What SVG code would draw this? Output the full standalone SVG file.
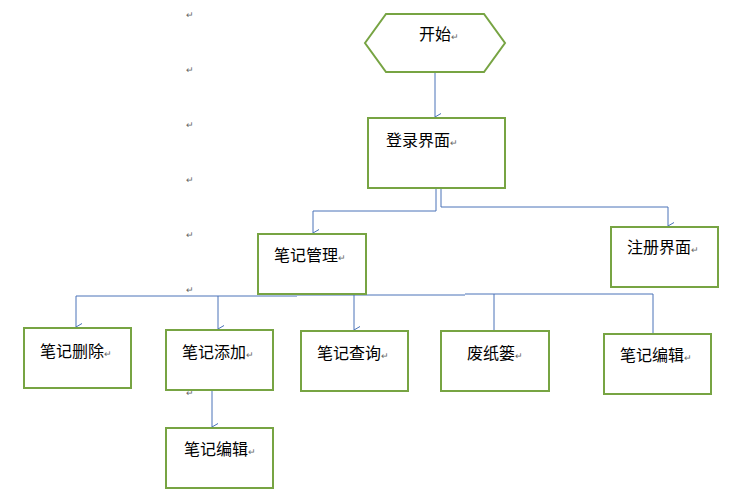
<svg xmlns="http://www.w3.org/2000/svg" width="755" height="493" viewBox="0 0 755 493">
<defs><marker id="a" markerWidth="8" markerHeight="8" refX="4" refY="7" orient="auto" markerUnits="userSpaceOnUse"><path d="M0.5,1 L4,7 L7.5,1" fill="none" stroke="#4a72b8" stroke-width="1"/></marker></defs>
<style>
.b{fill:#fff;stroke:#77a443;stroke-width:2}
.t{font-family:"Noto Sans CJK SC","Liberation Sans",sans-serif;font-size:16px;fill:#000}
.r{font-family:"Liberation Sans",sans-serif;font-size:9px;fill:#666}
.c{fill:none;stroke:#4a72b8;stroke-width:1}
</style>
<rect width="755" height="493" fill="#fff"/>
<g id="marks">
<text class="r" x="186" y="18">↵</text><text class="r" x="186" y="73">↵</text><text class="r" x="186" y="128">↵</text><text class="r" x="186" y="183">↵</text><text class="r" x="186" y="238">↵</text><text class="r" x="186" y="293">↵</text><text class="r" x="186" y="396">↵</text>
</g>
<g id="connectors">
<path class="c" d="M435,72 V117" marker-end="url(#a)"/>
<path class="c" d="M436,188 V211 H313 V233" marker-end="url(#a)"/>
<path class="c" d="M441,188 V207 H668 V226" marker-end="url(#a)"/>
<path class="c" d="M76,296 H297 M297,295 H465 M465,294 H653 V333 M494,294 V331"/>
<path class="c" d="M76,296 V327" marker-end="url(#a)"/>
<path class="c" d="M218,296 V329" marker-end="url(#a)"/>
<path class="c" d="M354,295 V330" marker-end="url(#a)"/>
<path class="c" d="M212,390 V427" marker-end="url(#a)"/>
</g>
<g id="start"><polygon class="b" points="365,43 386,14 484,14 505,43 484,72 386,72"/><text class="t" x="419" y="40">开始<tspan class="r">↵</tspan></text></g>
<g id="login"><rect class="b" x="368" y="118" width="137" height="70"/><text class="t" x="386" y="146">登录界面<tspan class="r">↵</tspan></text></g>
<g id="manage"><rect class="b" x="258" y="234" width="108" height="60"/><text class="t" x="274" y="261">笔记管理<tspan class="r">↵</tspan></text></g>
<g id="register"><rect class="b" x="611" y="227" width="107" height="60"/><text class="t" x="627" y="253">注册界面<tspan class="r">↵</tspan></text></g>
<g id="del"><rect class="b" x="24" y="328" width="107" height="60"/><text class="t" x="40" y="357">笔记删除<tspan class="r">↵</tspan></text></g>
<g id="add"><rect class="b" x="166" y="330" width="107" height="60"/><text class="t" x="182" y="358">笔记添加<tspan class="r">↵</tspan></text></g>
<g id="query"><rect class="b" x="301" y="331" width="107" height="60"/><text class="t" x="317" y="359">笔记查询<tspan class="r">↵</tspan></text></g>
<g id="trash"><rect class="b" x="441" y="331" width="108" height="60"/><text class="t" x="467" y="359">废纸篓<tspan class="r">↵</tspan></text></g>
<g id="edit1"><rect class="b" x="604" y="334" width="107" height="60"/><text class="t" x="620" y="361">笔记编辑<tspan class="r">↵</tspan></text></g>
<g id="edit2"><rect class="b" x="166" y="428" width="107" height="60"/><text class="t" x="184" y="455">笔记编辑<tspan class="r">↵</tspan></text></g>
</svg>
